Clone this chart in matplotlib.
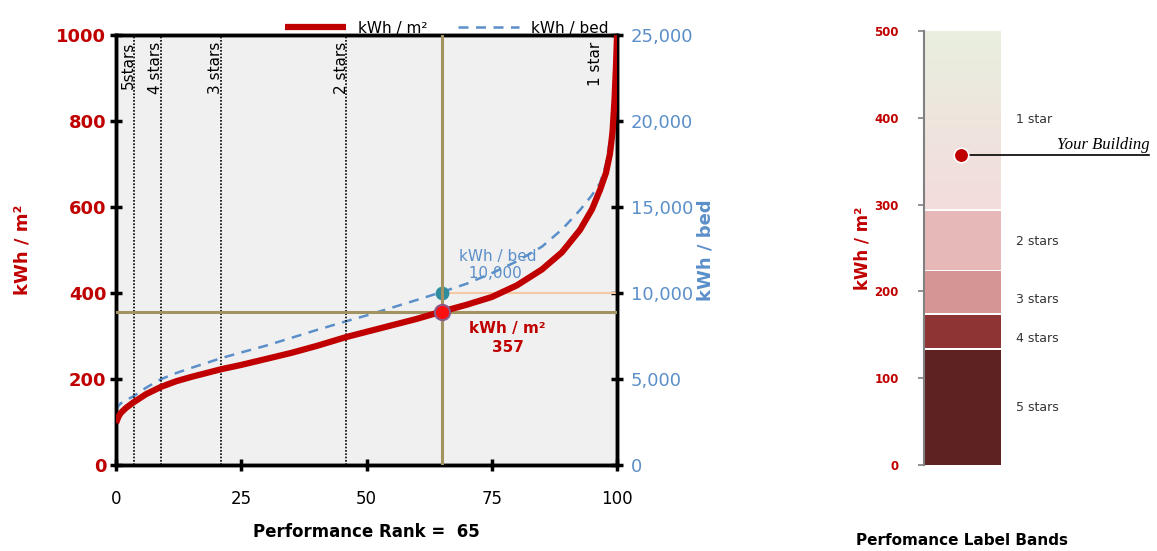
import numpy as np
import matplotlib
matplotlib.use("Agg")
import matplotlib.pyplot as plt
from matplotlib.colors import LinearSegmentedColormap

# ---- data ----
rank = [0, 0.5, 1, 2, 3.5, 6, 9, 12, 15, 21, 25, 30, 35, 40, 46, 50, 55, 60, 65, 70, 75, 80, 85, 89, 92.6, 95, 96.6, 97.8, 98.6, 99.1, 99.5, 99.8, 100]
kwh_m2 = [98, 113, 122, 133, 146, 165, 182, 195, 205, 223, 233, 247, 261, 277, 298, 310, 325, 340, 357, 373, 391, 418, 455, 495, 547, 595, 640, 680, 725, 775, 850, 930, 1000]
kwh_bed = [3200, 3450, 3600, 3780, 4000, 4500, 5000, 5350, 5650, 6220, 6550, 6950, 7400, 7850, 8370, 8700, 9150, 9600, 10060, 10550, 11160, 11850, 12700, 13700, 14830, 15700, 16400, 17500, 18900, 20000, 21500, 23300, 25000]
star_ranks = [3.5, 9, 21, 46]
star_labels = ["5stars", "4 stars", "3 stars", "2 stars", "1 star"]
star_label_x = [1.0, 6.3, 18.3, 43.5, 94.3]
your_rank = 65
your_kwh_m2 = 357
your_kwh_bed = 10000
left_ticks = [0, 200, 400, 600, 800, 1000]
right_ticks = [0, 5000, 10000, 15000, 20000, 25000]
x_ticks = [0, 25, 50, 75, 100]

band_edges = [0, 135, 175, 225, 295, 500]
band_colors = ["#5e2222", "#8e3434", "#d69595", "#e6b8b8"]
band_names = ["5 stars", "4 stars", "3 stars", "2 stars", "1 star"]
band_label_y = [66, 146, 191, 257, 398]

RED = "#c00000"
BLUE = "#5b8fc9"
OLIVE = "#a39360"

fig = plt.figure(figsize=(11.57, 5.51), dpi=100)

# ---- main axes ----
ax = fig.add_axes([0.1003, 0.156, 0.433, 0.780])
ax2 = ax.twinx()
ax.set_xlim(0, 100)
ax.set_ylim(0, 1000)
ax2.set_ylim(0, 25000)
ax2.set_zorder(0)
ax.set_zorder(1)
ax.patch.set_visible(False)
ax2.patch.set_visible(True)
ax2.patch.set_facecolor("#f0f0f0")

for r in star_ranks:
    ax.axvline(r, color="black", lw=1.2, ls=(0, (1, 1)), zorder=2)
for lab, lx in zip(star_labels, star_label_x):
    ax.text(lx, 985, lab, rotation=90, ha="left", va="top",
            fontsize=11, color="black", zorder=3)

ax.axhline(your_kwh_m2, color=OLIVE, lw=2.2, zorder=3)
ax.axvline(your_rank, color=OLIVE, lw=2.2, zorder=3)
ax2.plot([your_rank, 100], [your_kwh_bed, your_kwh_bed], color="#f7c9a3", lw=1.5, zorder=3)

ax2.plot(rank, kwh_bed, color=BLUE, lw=1.8, ls=(0, (4, 3)), zorder=4, label="kWh / bed")
ax.plot(rank, kwh_m2, color=RED, lw=4.5, zorder=5, label="kWh / m²",
        solid_capstyle="butt", solid_joinstyle="round")
ax2.scatter([your_rank], [your_kwh_bed], s=80, color="#2f8ea0", zorder=6, clip_on=False)
ax.scatter([your_rank], [your_kwh_m2], s=120, color="#ff1010", edgecolor="#8a5a8a", lw=1.5, zorder=7)

ax.text(68.5, 465, "kWh / bed\n  10,000", color=BLUE, fontsize=11, ha="left", va="center",
        linespacing=1.2, zorder=8)
ax.text(70.5, 295, "kWh / m²\n357", color=RED, fontsize=11, fontweight="bold",
        ha="left", va="center", linespacing=1.3, multialignment="center", zorder=8)

ax.set_xticks(x_ticks)
ax.set_xticklabels([str(t) for t in x_ticks], fontsize=12)
ax.set_yticks(left_ticks)
ax.set_yticklabels([str(t) for t in left_ticks], fontsize=13, fontweight="bold", color=RED)
ax2.set_yticks(right_ticks)
ax2.set_yticklabels([f"{t:,}" for t in right_ticks], fontsize=13, color=BLUE)
ax.tick_params(axis="x", direction="inout", length=8, width=2.5, pad=14)
ax.tick_params(axis="y", direction="inout", length=8, width=2.5, pad=3)
ax2.tick_params(axis="y", direction="inout", length=8, width=2.5, pad=6)
for a in (ax, ax2):
    for s in a.spines.values():
        s.set_linewidth(2.5)
        s.set_color("black")

ax.set_ylabel("kWh / m²", color=RED, fontsize=13, fontweight="bold", labelpad=18)
ax2.set_ylabel("kWh / bed", color=BLUE, fontsize=13, fontweight="bold", labelpad=2)
ax.set_xlabel("Performance Rank =  65", fontsize=12, fontweight="bold", labelpad=11)

h1, l1 = ax.get_legend_handles_labels()
h2, l2 = ax2.get_legend_handles_labels()
ax.legend(h1 + h2, l1 + l2, loc="lower center", bbox_to_anchor=(0.66, 0.985), ncol=2,
          frameon=False, fontsize=11, handlelength=4, columnspacing=2.0, borderaxespad=0)

# ---- bands axes ----
bx = fig.add_axes([0.7986, 0.156, 0.0665, 0.7877])
for i, c in enumerate(band_colors):
    bx.bar(0.5, band_edges[i + 1] - band_edges[i] - 2, bottom=band_edges[i], width=1.0,
           color=c, edgecolor="none", zorder=1)
grad = LinearSegmentedColormap.from_list("g", ["#f3dcdc", "#e9efdf"])
gvals = np.linspace(0, 1, 256).reshape(-1, 1)
bx.imshow(gvals, cmap=grad, origin="lower", aspect="auto",
          extent=[0, 1, band_edges[4], band_edges[5]], zorder=1)
bx.set_xlim(0, 1)
bx.set_ylim(0, 500)

for name, ly in zip(band_names, band_label_y):
    bx.text(1.2, ly, name, fontsize=9, color="#333333", ha="left", va="center", clip_on=False)

bx.plot([0.48, 2.93], [your_kwh_m2, your_kwh_m2], color="black", lw=1.2, clip_on=False, zorder=3)
bx.scatter([0.48], [your_kwh_m2], s=110, color="#c00000", edgecolor="white", lw=1.2, zorder=4)
bx.text(2.93, your_kwh_m2 + 3, "Your Building", fontsize=12, fontstyle="italic",
        family="Liberation Serif", ha="right", va="bottom", clip_on=False)

for s in ("top", "right", "bottom"):
    bx.spines[s].set_visible(False)
bx.spines["left"].set_color("#808080")
bx.spines["left"].set_linewidth(1.5)
bx.set_xticks([])
bx.set_yticks([0, 100, 200, 300, 400, 500])
bx.set_yticklabels(["0", "100", "200", "300", "400", "500"], fontsize=8.5, fontweight="bold", color=RED)
bx.tick_params(axis="y", color="#808080", length=4, width=1.2, pad=14)
bx.set_ylabel("kWh / m²", color=RED, fontsize=12, fontweight="bold", labelpad=2)
fig.text(0.8315, 0.01, "Perfomance Label Bands", fontsize=11, fontweight="bold", ha="center")

fig.savefig("out.png", dpi=100)
